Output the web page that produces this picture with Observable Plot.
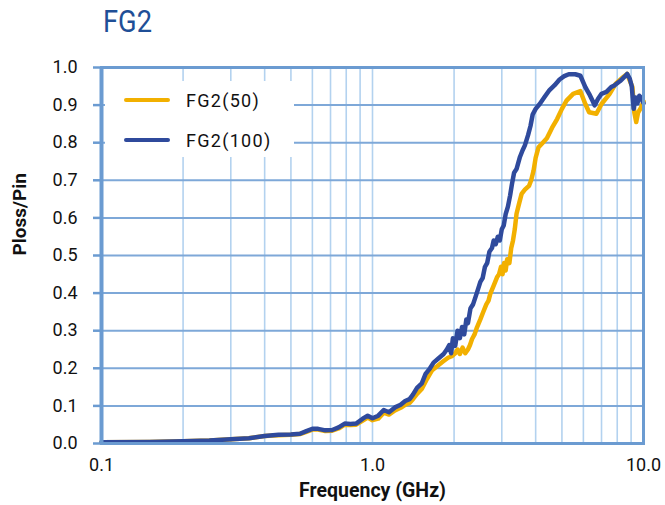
<!DOCTYPE html>
<html><head><meta charset="utf-8">
<script src="https://cdn.jsdelivr.net/npm/d3@7"></script>
<script src="https://cdn.jsdelivr.net/npm/@observablehq/plot@0.6"></script>
<style>
body{margin:0;background:#fff;font-family:Roboto,"Liberation Sans",sans-serif;}
#wrap{position:relative;width:665px;height:505px;overflow:hidden;}
#title{position:absolute;left:103px;top:2px;font-size:31px;line-height:40px;color:#1f4f97;transform:scaleX(0.88);transform-origin:left center;}
#chart{position:absolute;left:0;top:45px;}
#legend{position:absolute;left:105px;top:81px;width:189px;height:76px;background:#fff;}
.item{position:absolute;left:0;height:24px;display:flex;align-items:center;font-size:18px;letter-spacing:1.3px;color:#111;}
.sw{display:inline-block;width:46px;height:4px;margin-left:19px;margin-right:16px;border-radius:2px;}
</style></head>
<body>
<div id="wrap">
  <div id="title">FG2</div>
  <div id="chart"></div>
  <div id="legend"></div>
</div>
<script>
const seriesNames = ["FG2(50)", "FG2(100)"];
const seriesColors = ["#f2b000", "#2f4a9c"];

const freq50 = [0.1,0.15,0.2,0.25,0.3,0.35,0.4,0.45,0.5,0.54,0.57,0.6,0.63,0.67,0.71,0.75,0.79,0.83,0.87,0.92,0.96,1.0,1.05,1.1,1.15,1.21,1.27,1.32,1.37,1.41,1.46,1.52,1.59,1.66,1.74,1.82,1.9,1.96,2.02,2.06,2.1,2.15,2.2,2.25,2.29,2.33,2.38,2.43,2.5,2.56,2.63,2.68,2.72,2.8,2.88,2.93,2.98,3.02,3.06,3.1,3.14,3.2,3.25,3.3,3.35,3.4,3.48,3.55,3.65,3.78,3.85,3.93,4.0,4.1,4.25,4.4,4.6,4.8,5.0,5.2,5.5,5.85,6.1,6.3,6.7,7.0,7.5,7.9,8.4,8.7,9.1,9.25,9.4,9.55,9.8,10.0];
const val50 = [0.003,0.004,0.006,0.008,0.011,0.014,0.020,0.022,0.023,0.025,0.031,0.037,0.037,0.033,0.034,0.040,0.050,0.049,0.050,0.061,0.069,0.062,0.066,0.082,0.077,0.088,0.095,0.103,0.108,0.118,0.132,0.145,0.172,0.195,0.207,0.218,0.228,0.232,0.240,0.250,0.238,0.255,0.240,0.250,0.262,0.278,0.290,0.309,0.330,0.349,0.370,0.380,0.398,0.420,0.442,0.450,0.470,0.450,0.480,0.460,0.490,0.480,0.520,0.540,0.570,0.611,0.640,0.664,0.675,0.685,0.700,0.726,0.760,0.788,0.800,0.812,0.840,0.863,0.890,0.912,0.930,0.937,0.903,0.881,0.877,0.903,0.930,0.957,0.974,0.983,0.948,0.880,0.855,0.880,0.894,0.910];

const freq100 = [0.1,0.15,0.2,0.25,0.3,0.35,0.4,0.45,0.5,0.54,0.57,0.6,0.63,0.67,0.71,0.75,0.79,0.83,0.87,0.92,0.96,1.0,1.05,1.1,1.15,1.21,1.27,1.32,1.37,1.41,1.46,1.52,1.57,1.63,1.68,1.75,1.83,1.88,1.92,1.95,1.98,2.02,2.06,2.1,2.14,2.18,2.22,2.25,2.3,2.35,2.4,2.45,2.5,2.55,2.6,2.65,2.7,2.76,2.8,2.85,2.9,2.95,3.0,3.05,3.1,3.16,3.22,3.27,3.33,3.4,3.5,3.58,3.65,3.75,3.83,3.9,4.0,4.14,4.3,4.5,4.7,4.9,5.1,5.3,5.6,5.85,6.1,6.3,6.5,6.6,6.8,7.0,7.3,7.6,7.8,8.2,8.5,8.7,8.9,9.05,9.2,9.35,9.5,9.65,9.8,10.0];
const val100 = [0.003,0.004,0.006,0.008,0.011,0.014,0.020,0.023,0.024,0.026,0.033,0.039,0.039,0.035,0.036,0.043,0.053,0.052,0.053,0.066,0.074,0.067,0.074,0.089,0.083,0.096,0.103,0.113,0.118,0.130,0.148,0.160,0.185,0.200,0.215,0.226,0.238,0.250,0.262,0.240,0.280,0.260,0.300,0.280,0.310,0.290,0.330,0.320,0.360,0.370,0.390,0.410,0.430,0.440,0.470,0.480,0.510,0.520,0.540,0.530,0.550,0.540,0.570,0.580,0.610,0.630,0.660,0.690,0.720,0.730,0.762,0.780,0.793,0.820,0.845,0.875,0.890,0.903,0.920,0.940,0.953,0.968,0.977,0.982,0.982,0.978,0.948,0.930,0.910,0.899,0.917,0.930,0.935,0.948,0.952,0.964,0.975,0.983,0.970,0.950,0.890,0.920,0.905,0.925,0.920,0.905];

const yTicks = [0,0.1,0.2,0.3,0.4,0.5,0.6,0.7,0.8,0.9,1.0];
const xTicks = [0.1,1,10];
const xGrid = [0.2,0.3,0.4,0.5,0.6,0.7,0.8,0.9,1,2,3,4,5,6,7,8,9];

const axisColor = "#6b9bd1";
const rows = [
  ...freq50.map((f,i)=>({f, v: val50[i], s: seriesNames[0]})),
  ...freq100.map((f,i)=>({f, v: val100[i], s: seriesNames[1]}))
];

const chart = Plot.plot({
  width: 665, height: 460,
  marginTop: 22, marginBottom: 62, marginLeft: 101, marginRight: 22,
  style: {fontFamily: "Roboto, 'Liberation Sans', sans-serif", background: "#fff", color: "#111", overflow: "visible"},
  x: {type: "log", domain: [0.1, 10]},
  y: {domain: [0, 1]},
  color: {domain: seriesNames, range: seriesColors},
  marks: [
    Plot.ruleX(xGrid, {stroke: "#b3d2ef", strokeWidth: 1.6}),
    Plot.ruleY(yTicks, {stroke: "#7ea8d8", strokeWidth: 2}),
    Plot.line(rows.filter(d=>d.s===seriesNames[0]), {x: "f", y: "v", stroke: "s", strokeWidth: 4.5, curve: "linear"}),
    Plot.line(rows.filter(d=>d.s===seriesNames[1]), {x: "f", y: "v", stroke: "s", strokeWidth: 4.5, curve: "linear"}),
    Plot.frame({stroke: axisColor, strokeWidth: 3}),
    Plot.ruleX([0.1], {stroke: axisColor, strokeWidth: 4}),
    Plot.axisY(yTicks, {tickFormat: d3.format(".1f"), tickSize: 8, tickPadding: 16, stroke: axisColor, strokeWidth: 2.5, fontSize: 18, label: null, style: {letterSpacing: "1.6px"}}),
    Plot.axisX(xTicks, {tickFormat: d3.format(".1f"), tickSize: 0, tickPadding: 15, fontSize: 18, label: null, style: {letterSpacing: "1.4px"}}),
    Plot.text(["Ploss/Pin"], {frameAnchor: "left", dx: -82, rotate: -90, fontSize: 19, fontWeight: "bold", fill: "#111"}),
    Plot.text(["Frequency (GHz)"], {frameAnchor: "bottom", dy: 53, fontSize: 19.5, fontWeight: "bold", fill: "#111", style: {letterSpacing: "1.4px"}})
  ]
});
document.getElementById("chart").appendChild(chart);

const leg = document.getElementById("legend");
seriesNames.forEach((n,i)=>{
  const it = document.createElement("div");
  it.className = "item";
  it.style.top = (7 + i*40) + "px";
  it.innerHTML = `<span class="sw" style="background:${seriesColors[i]}"></span><span>${n}</span>`;
  leg.appendChild(it);
});
</script>
</body></html>
